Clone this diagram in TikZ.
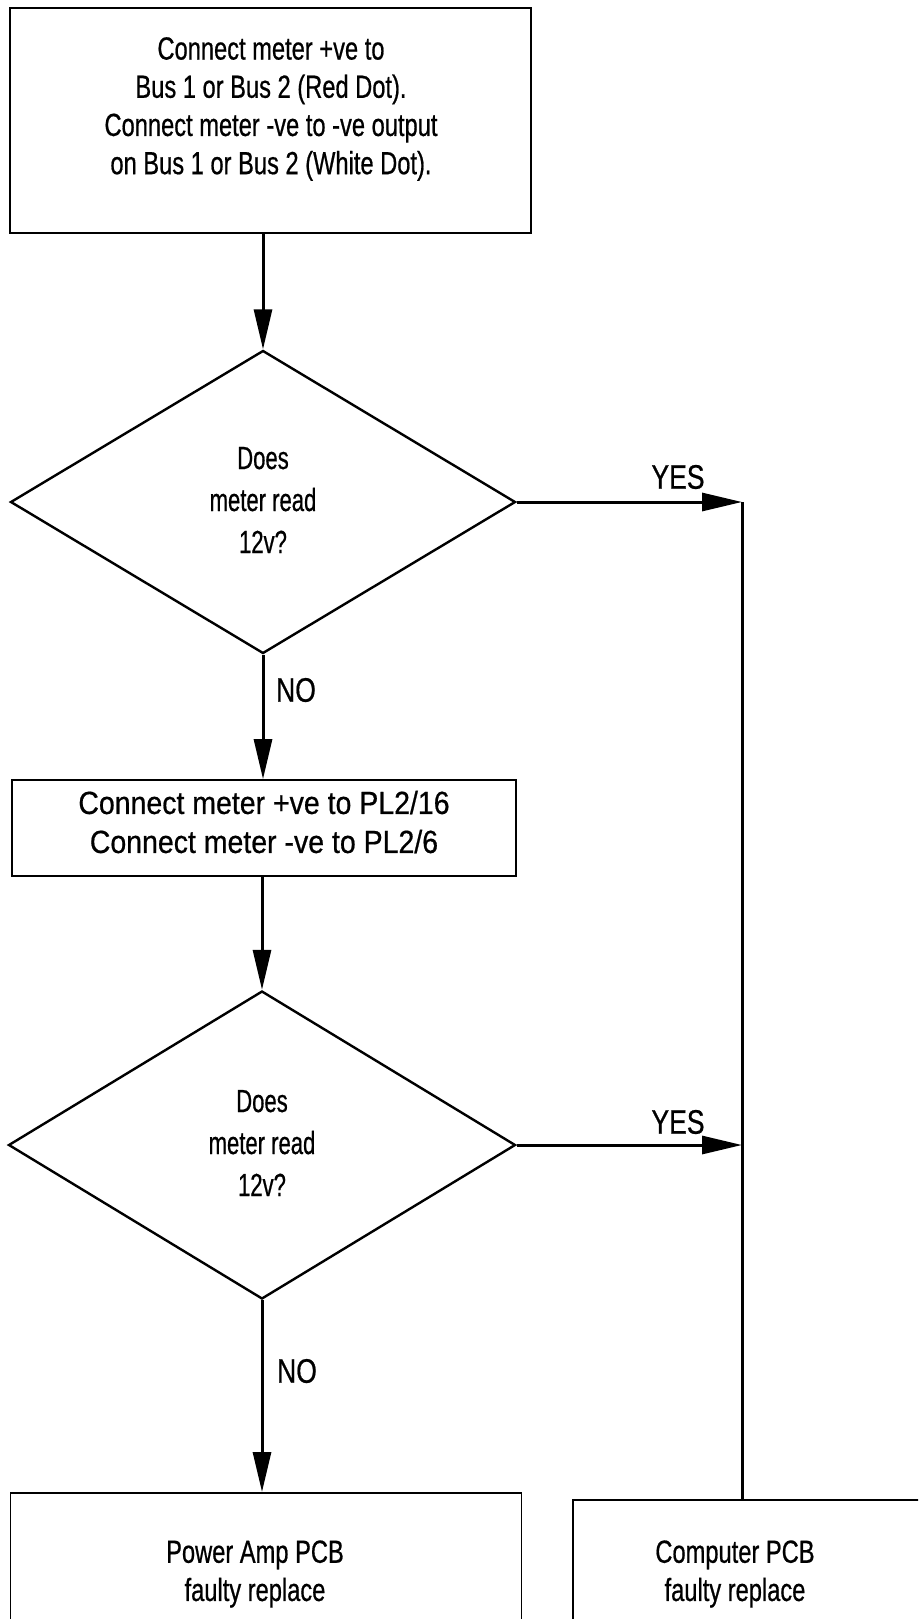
\documentclass[tikz,border=0pt]{standalone}
\usepackage{fontspec}
\setmainfont[FakeStretch=0.74,FakeBold=0.6]{Liberation Sans}
\newfontfamily\widefont[FakeStretch=0.89,FakeBold=0.6]{Liberation Sans}
\newfontfamily\dfont[FakeStretch=0.69,FakeBold=0.6]{Liberation Sans}
\newfontfamily\narrowfont[FakeStretch=0.78,FakeBold=0.6]{Liberation Sans}
\usetikzlibrary{shapes.geometric,arrows.meta}
\begin{document}
\begin{tikzpicture}[x=1pt,y=-1pt,
  boxshape/.style={draw,line width=1.7pt,rectangle,inner sep=0pt},
  decision/.style={draw,line width=2.4pt,diamond,inner sep=0pt},
  txt/.style={align=center,font=\fontsize{32}{38.2}\selectfont,inner sep=0pt},
  dtxt/.style={align=center,font=\dfont\fontsize{32}{42}\selectfont,inner sep=0pt},
  lbl/.style={font=\narrowfont\fontsize{34}{36}\selectfont,inner sep=0pt},
  conn/.style={line width=3pt,-{Triangle[length=40pt,width=18pt]}},
  plain/.style={line width=3pt}]
\useasboundingbox (0,0) rectangle (918,1619);
\clip (0,0) rectangle (918,1619);
\fill[white] (0,0) rectangle (918,1619);
% boxes
\node[boxshape,minimum width=521pt,minimum height=225pt] (box1) at (270.5,120.5) {};
\node[txt] (t1) at (271,109) {Connect meter +ve to\\Bus 1 or Bus 2 (Red Dot).\\Connect meter -ve to -ve output\\on Bus 1 or Bus 2 (White Dot).};
\node[decision,minimum width=505pt,minimum height=303pt] (d1) at (263,502) {};
\node[dtxt] (dt1) at (263,500) {Does\\meter read\\12v?};
\node[boxshape,minimum width=504pt,minimum height=96pt] (box2) at (264,828) {};
\node[txt,font=\widefont\fontsize{32}{39}\selectfont] (t2) at (264,822) {Connect meter +ve to PL2/16\\Connect meter -ve to PL2/6};
\node[decision,minimum width=507pt,minimum height=308pt] (d2) at (262,1145) {};
\node[dtxt] (dt2) at (262,1143) {Does\\meter read\\12v?};
\node[boxshape,minimum width=511pt,minimum height=260pt,anchor=north] (box3) at (266,1492) {};
\node[txt] (t3) at (255,1574) {Power Amp PCB\\faulty replace};
\node[boxshape,minimum width=377pt,minimum height=260pt,anchor=north west] (box4) at (572,1499) {};
\node[txt] (t4) at (735,1574) {Computer PCB\\faulty replace};
% junctions
\coordinate (j1) at (742,502);
\coordinate (j2) at (742,1145);
% connectors
\draw[conn] (d1.north |- box1.south) -- (d1.north);
\draw[conn] (d1.east) -- (j1);
\draw[conn] (d1.south) -- (d1.south |- box2.north);
\draw[conn] (d2.north |- box2.south) -- (d2.north);
\draw[conn] (d2.east) -- (j2);
\draw[conn] (d2.south) -- (d2.south |- box3.north);
\draw[plain] (j1) -- (j1 |- box4.north);
% labels
\node[lbl] (yes1) at (678,477) {YES};
\node[lbl] (yes2) at (678,1122) {YES};
\node[lbl] (no1) at (296,690) {NO};
\node[lbl] (no2) at (297,1371) {NO};
\end{tikzpicture}
\end{document}
